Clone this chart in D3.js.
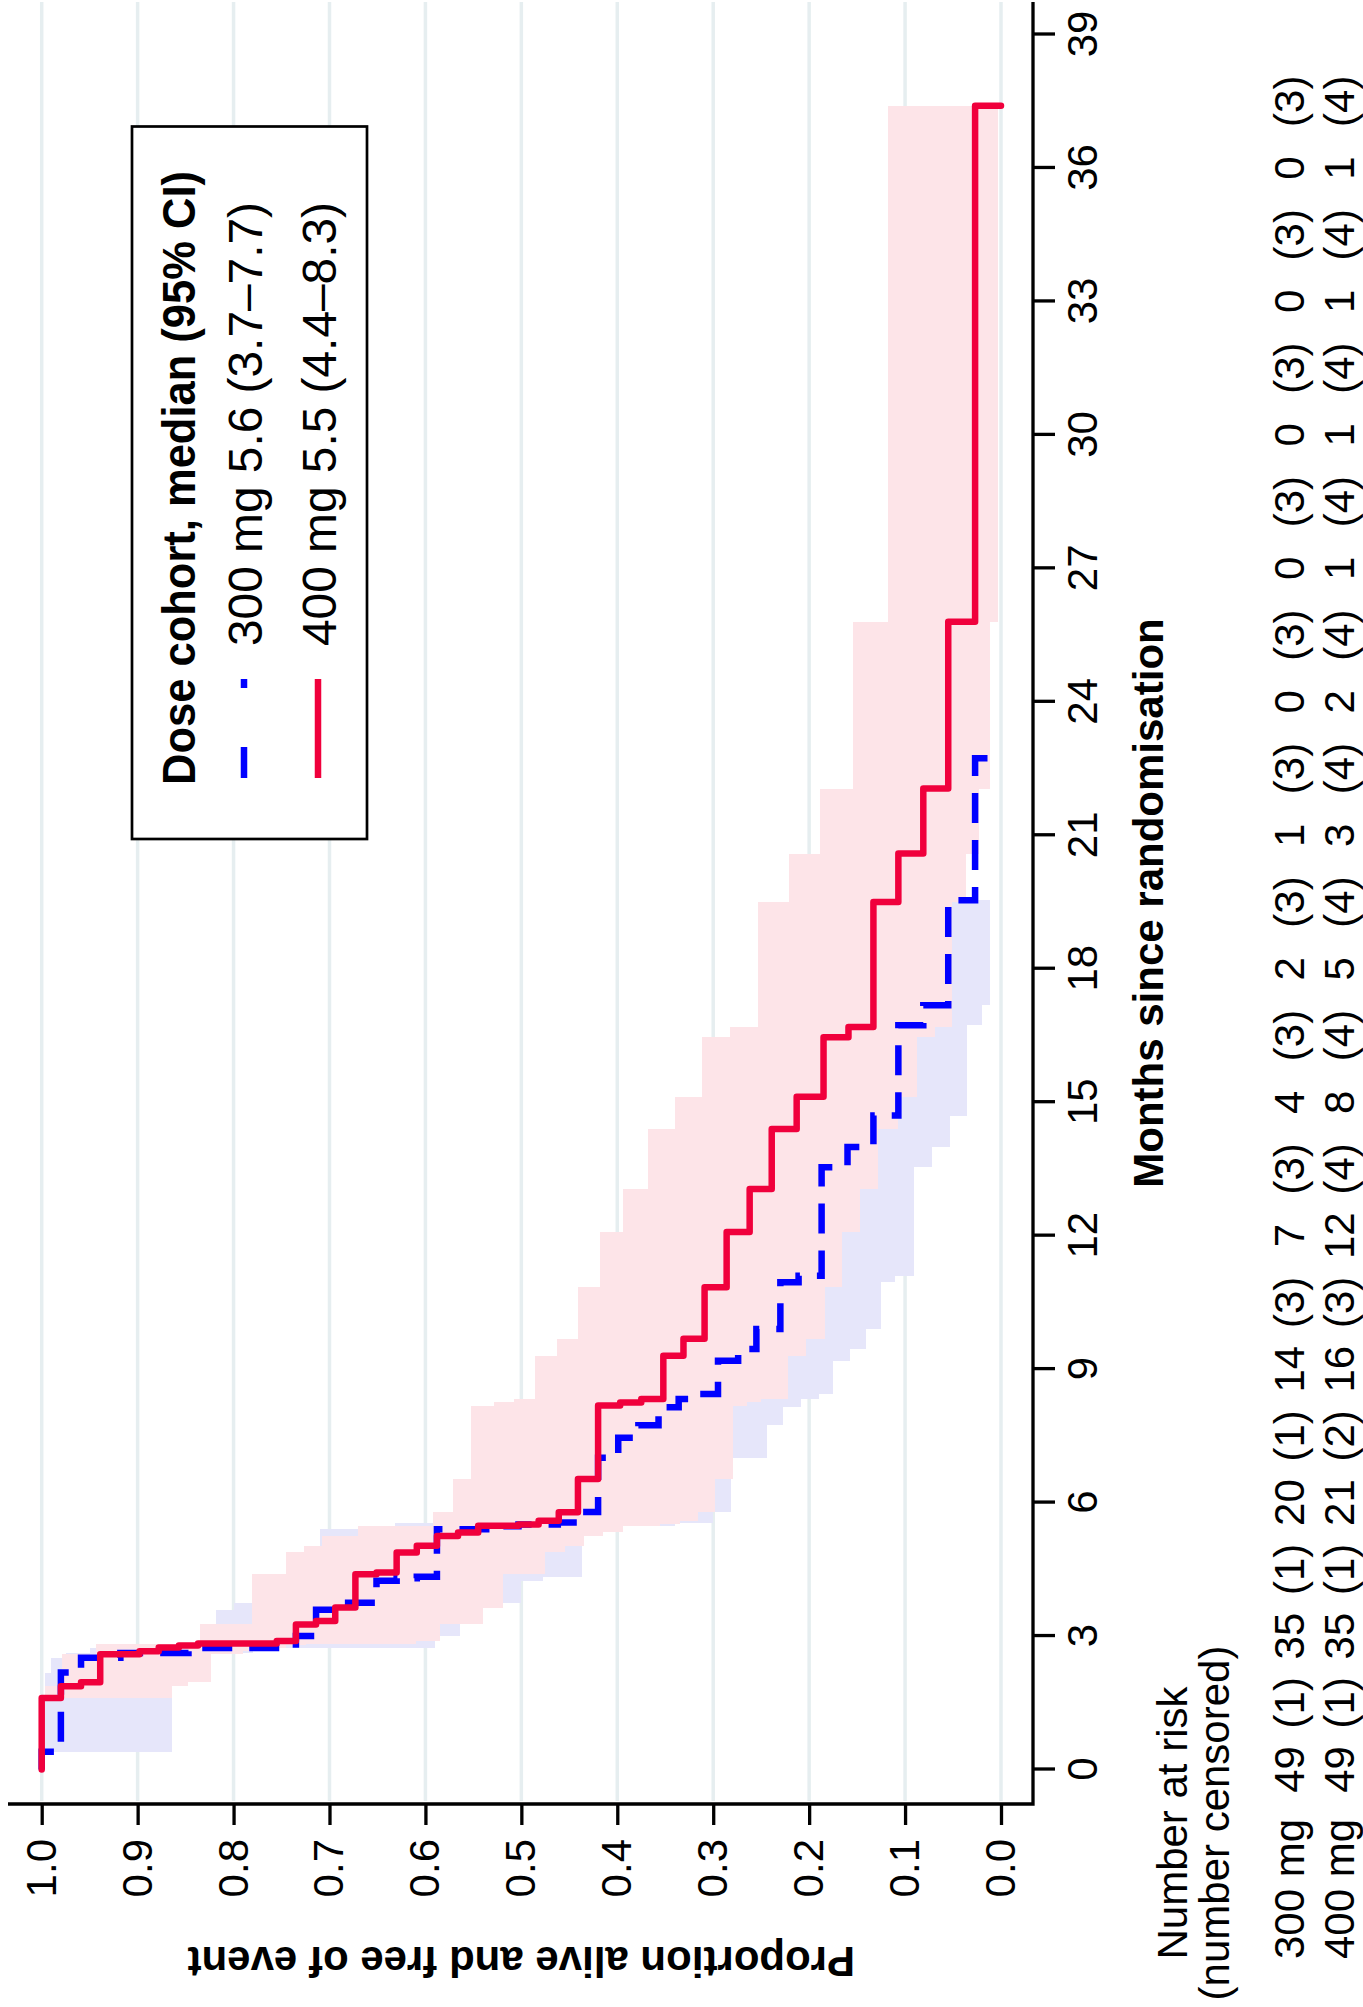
<!DOCTYPE html>
<html><head><meta charset="utf-8">
<script src="https://cdn.jsdelivr.net/npm/d3@7"></script>
<style>body{margin:0;background:#fff}svg{display:block}</style>
</head><body>
<svg id="c" width="1363" height="2007"></svg>
<script>
// ---------------- DATA ----------------
const monthTicks = [0,3,6,9,12,15,18,21,24,27,30,33,36,39];
const survTicks = [0,0.1,0.2,0.3,0.4,0.5,0.6,0.7,0.8,0.9,1.0];

// Kaplan-Meier steps [month, survival] - 400 mg (red, solid)
const km400 = [[0,1],[1.61,.980],[1.87,.959],[1.96,.939],[2.59,.898],[2.66,.878],[2.74,.857],[2.79,.837],[2.83,.755],[2.89,.735],[3.26,.714],[3.34,.694],[3.64,.673],[4.39,.651],[4.43,.630],[4.88,.609],[5.03,.588],[5.25,.566],[5.33,.545],[5.48,.503],[5.51,.482],[5.59,.461],[5.78,.441],[6.53,.420],[8.18,.397],[8.25,.375],[8.33,.352],[9.30,.331],[9.68,.309],[10.84,.286],[12.08,.262],[13.05,.239],[14.40,.213],[15.12,.185],[16.46,.159],[16.69,.133],[19.50,.107],[20.59,.081],[22.05,.055],[25.80,.027],[37.40,0]];
// 300 mg (blue, dashed)
const km300 = [[0,1],[0.40,.980],[2.18,.959],[2.51,.918],[2.62,.847],[2.73,.735],[3.00,.714],[3.59,.693],[3.75,.651],[4.24,.630],[4.30,.609],[4.33,.588],[5.40,.525],[5.47,.503],[5.51,.462],[5.55,.441],[5.79,.420],[7.01,.399],[7.46,.378],[7.74,.357],[8.14,.336],[8.33,.317],[8.44,.295],[9.19,.274],[9.45,.255],[9.90,.230],[10.95,.211],[11.10,.187],[13.54,.160],[13.99,.133],[14.70,.107],[16.73,.081],[17.18,.055],[19.54,.027],[22.73,0]];

// 95% CI bands (step starts, lower, upper)
const ci400T  = [1.61,1.87,1.96,2.59,2.66,2.74,2.79,2.83,2.89,3.26,3.34,3.64,4.39,4.43,4.88,5.03,5.25,5.33,5.48,5.51,5.59,5.78,6.53,8.18,8.25,8.33,9.30,9.68,10.84,12.08,13.05,14.40,15.12,16.46,16.69,19.50,20.59,22.05,25.80,37.40];
const ci400Hi = [.997,.979,.979,.943,.943,.943,.943,.840,.835,.781,.781,.781,.745,.745,.727,.708,.670,.670,.592,.592,.592,.571,.552,.529,.508,.486,.463,.441,.418,.394,.368,.340,.312,.282,.253,.221,.189,.154,.118,.118];
const ci400Lo = [.864,.847,.823,.790,.770,.745,.725,.610,.585,.540,.540,.519,.475,.475,.454,.435,.415,.394,.355,.335,.316,.298,.279,.265,.250,.222,.203,.183,.166,.147,.128,.107,.088,.069,.051,.036,.023,.011,.003,.003];

const ci300T  = [0.40,2.18,2.51,2.62,2.73,3.00,3.59,3.75,4.24,4.33,5.40,5.47,5.55,5.79,7.01,7.46,7.74,8.14,8.33,8.44,9.19,9.45,9.90,10.95,11.10,13.54,13.99,14.70,16.73,17.18,19.54];
const ci300Hi = [.997,.990,.975,.950,.830,.818,.800,.760,.730,.710,.660,.632,.570,.550,.530,.510,.490,.470,.450,.430,.410,.390,.360,.340,.310,.280,.250,.220,.190,.160,.160];
const ci300Lo = [.864,.840,.825,.780,.590,.564,.540,.500,.477,.437,.400,.340,.300,.281,.244,.244,.227,.208,.190,.175,.157,.141,.125,.110,.091,.072,.053,.035,.020,.011,.011];

// Numbers at risk (number censored) at months 0..36
const riskMonths = [0,3,6,9,12,15,18,21,24,27,30,33,36];
const risk300 = [49,35,20,14,7,4,2,1,0,0,0,0,0];
const cens300 = [1,1,1,3,3,3,3,3,3,3,3,3,3];
const risk400 = [49,35,21,16,12,8,5,3,2,1,1,1,1];
const cens400 = [1,1,2,3,4,4,4,4,4,4,4,4,4];

const legendTitle = "Dose cohort, median (95% CI)";
const legendLabels = ["300 mg 5.6 (3.7\u20137.7)", "400 mg 5.5 (4.4\u20138.3)"];

// ---------------- DRAW ----------------
const FONT = "'Liberation Sans', Arial, Helvetica, sans-serif";
const RED = "#f0003c", BLUE = "#0000ff";
const svg = d3.select("#c");
svg.append("rect").attr("width",1363).attr("height",2007).attr("fill","#fff");
// chart is drawn in landscape and rotated 90deg counter-clockwise
const g = svg.append("g").attr("transform","translate(0,2007) rotate(-90)");

const x = d3.scaleLinear().domain([0,39]).range([237.5,1972.5]);
const y = d3.scaleLinear().domain([0,1]).range([1001,41.7]);
const boxL = 203, boxR = 2005, boxT = 8, boxB = 1033;

// grid
g.selectAll("line.grid").data(survTicks).join("line").attr("class","grid")
  .attr("x1",boxL+3).attr("x2",boxR).attr("y1",d=>y(d)).attr("y2",d=>y(d))
  .attr("stroke","#e6eef0").attr("stroke-width",3.5);

// bands
const band = d3.area().curve(d3.curveStepAfter)
  .x(d=>x(d.t)).y0(d=>y(d.lo)).y1(d=>y(d.hi));
const b300 = ci300T.map((t,i)=>({t, lo:ci300Lo[i], hi:ci300Hi[i]}));
const b400 = ci400T.map((t,i)=>({t, lo:ci400Lo[i], hi:ci400Hi[i]}));
g.append("path").attr("d",band(b300)).attr("fill","#e6e6fa").attr("shape-rendering","crispEdges");
g.append("path").attr("d",band(b400)).attr("fill","#fde4e8").attr("shape-rendering","crispEdges");

// curves
const step = d3.line().curve(d3.curveStepAfter).x(d=>x(d[0])).y(d=>y(d[1]));
g.append("path").attr("d",step(km300)).attr("fill","none").attr("stroke",BLUE)
  .attr("stroke-width",6.5).attr("stroke-dasharray","30,17");
g.append("path").attr("d",step(km400)).attr("fill","none").attr("stroke",RED)
  .attr("stroke-width",6.5).attr("stroke-linejoin","round").attr("stroke-linecap","round");

// axes
const xAxis = d3.axisBottom(x).tickValues(monthTicks).tickSize(22).tickPadding(12);
const gx = g.append("g").attr("transform",`translate(0,${boxB})`).call(xAxis);
const yAxis = d3.axisLeft(y).tickValues(survTicks).tickFormat(d3.format(".1f")).tickSize(21).tickPadding(14);
const gy = g.append("g").attr("transform",`translate(${boxL},0)`).call(yAxis);
[gx,gy].forEach(a=>{
  a.select(".domain").remove();
  a.attr("font-family",FONT).attr("font-size",42);
  a.selectAll(".tick line").attr("stroke","#000").attr("stroke-width",3.3);
  a.selectAll(".tick text").attr("fill","#000");
});
g.append("path").attr("d",`M${boxL},${boxT}V${boxB}H${boxR}`)
  .attr("fill","none").attr("stroke","#000").attr("stroke-width",3.3);

// axis titles
g.append("text").attr("x",(boxL+boxR)/2).attr("y",1163).attr("text-anchor","middle")
  .attr("font-family",FONT).attr("font-weight","bold").attr("font-size",42)
  .text("Months since randomisation");
g.append("text").attr("transform",`translate(60,${(y(0)+y(1))/2}) rotate(-90)`)
  .attr("text-anchor","middle").attr("font-family",FONT).attr("font-weight","bold")
  .attr("font-size",42).text("Proportion alive and free of event");

// legend
const lg = g.append("g");
lg.append("rect").attr("x",1168).attr("y",132).attr("width",712.5).attr("height",235)
  .attr("fill","#fff").attr("stroke","#000").attr("stroke-width",2.7);
lg.append("text").attr("x",1222).attr("y",195).attr("font-family",FONT).attr("font-weight","bold")
  .attr("font-size",46).attr("textLength",614).attr("lengthAdjust","spacingAndGlyphs").text(legendTitle);
const legY = [262,336], legLineY = [244,318];
legendLabels.forEach((t,i)=>{
  lg.append("text").attr("x",1361).attr("y",legY[i]).attr("font-family",FONT)
    .attr("font-size",47.5).attr("textLength",444).attr("lengthAdjust","spacingAndGlyphs").text(t);
  lg.append("line").attr("x1",1229).attr("x2",1328).attr("y1",legLineY[i]).attr("y2",legLineY[i])
    .attr("stroke",i===0?BLUE:RED).attr("stroke-width",6.5)
    .attr("stroke-dasharray",i===0?"31,59,9,100":null);
});

// numbers at risk
const rt = g.append("g").attr("font-family",FONT).attr("font-size",42).attr("fill","#000");
rt.append("text").attr("x",184).attr("y",1187).attr("text-anchor","middle").text("Number at risk");
rt.append("text").attr("x",184).attr("y",1229).attr("text-anchor","middle").text("(number censored)");
const rows = [{lab:"300 mg", n:risk300, c:cens300, yb:1304},{lab:"400 mg", n:risk400, c:cens400, yb:1354}];
rows.forEach(r=>{
  rt.append("text").attr("x",48).attr("y",r.yb).text(r.lab);
  rt.selectAll(null).data(riskMonths).join("text").attr("x",d=>x(d)).attr("y",r.yb)
    .attr("text-anchor","middle").text((d,i)=>r.n[i]);
  rt.selectAll(null).data(riskMonths).join("text").attr("x",d=>x(d+1.5)).attr("y",r.yb)
    .attr("text-anchor","middle").text((d,i)=>`(${r.c[i]})`);
});
</script>
</body></html>
